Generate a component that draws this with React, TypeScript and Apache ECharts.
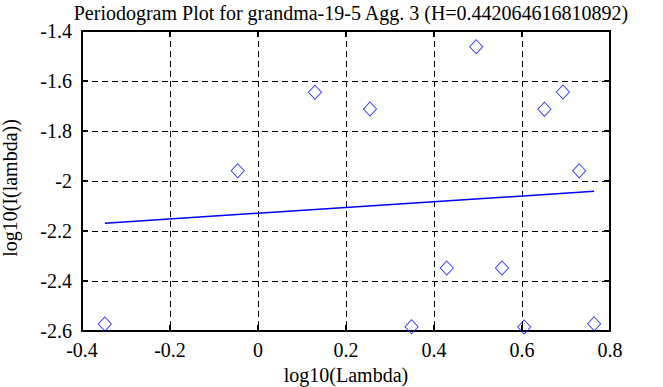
import React, { useEffect, useRef } from "react";
import * as echarts from "echarts";

const titleText = "Periodogram Plot for grandma-19-5 Agg. 3 (H=0.442064616810892)";
const xName = "log10(Lambda)";
const yName = "log10(I(lambda))";

const logLambda = [-0.348, -0.046, 0.1295, 0.2545, 0.349, 0.429, 0.496, 0.5545, 0.605, 0.651, 0.693, 0.730, 0.764];
const logI = [-2.572, -1.959, -1.645, -1.712, -2.583, -2.348, -1.463, -2.348, -2.584, -1.713, -1.644, -1.959, -2.571];
const fitX = [-0.348, 0.764];
const fitY = [-2.169, -2.041];

const FONT = "Liberation Serif, Times New Roman, serif";
const FS = 20;

function fmt(v: number) {
  const r = Math.round(v * 10) / 10;
  return String(r);
}

export default function App() {
  const ref = useRef<HTMLDivElement>(null);
  useEffect(() => {
    document.body.style.margin = "0";
    if (!ref.current) return;
    const chart = echarts.init(ref.current, null, { renderer: "svg" });
    const axisCommon = {
      type: "value" as const,
      axisLine: { show: true, onZero: false, lineStyle: { color: "#000", width: 2 } },
      axisTick: { show: true, inside: true, length: 6, lineStyle: { color: "#000", width: 2 } },
      minorTick: { show: false },
    };
    chart.setOption({
      animation: false,
      backgroundColor: "#fff",
      textStyle: { fontFamily: FONT },
      title: {
        text: titleText,
        left: 346,
        textAlign: "center",
        top: -2,
        textStyle: { fontFamily: FONT, fontSize: FS, fontWeight: "normal", color: "#000" },
      },
      grid: { left: 82, top: 31, width: 528, height: 300, containLabel: false, outerBoundsMode: "none" },
      graphic: [
        {
          type: "text",
          x: 10,
          y: 188,
          rotation: Math.PI / 2,
          style: {
            text: yName,
            fontFamily: FONT,
            fontSize: FS,
            fill: "#000",
            align: "center",
            verticalAlign: "middle",
          },
        },
      ],
      xAxis: [
        {
          ...axisCommon,
          position: "bottom",
          min: -0.4,
          max: 0.8,
          interval: 0.2,
          name: xName,
          nameLocation: "middle",
          nameGap: 32,
          nameTextStyle: { fontFamily: FONT, fontSize: FS, color: "#000" },
          axisLabel: { fontFamily: FONT, fontSize: FS, color: "#000", margin: 9, formatter: fmt },
          splitLine: { show: true, lineStyle: { color: "#000", type: [6, 4], width: 1 } },
        },
        {
          ...axisCommon,
          position: "top",
          min: -0.4,
          max: 0.8,
          interval: 0.2,
          axisLabel: { show: false },
          splitLine: { show: false },
        },
      ],
      yAxis: [
        {
          ...axisCommon,
          position: "left",
          min: -2.6,
          max: -1.4,
          interval: 0.2,
          axisLabel: { fontFamily: FONT, fontSize: FS, color: "#000", margin: 10, formatter: fmt },
          splitLine: { show: true, lineStyle: { color: "#000", type: [6, 4], width: 1 } },
        },
        {
          ...axisCommon,
          position: "right",
          min: -2.6,
          max: -1.4,
          interval: 0.2,
          axisLabel: { show: false },
          splitLine: { show: false },
        },
      ],
      series: [
        {
          type: "scatter",
          xAxisIndex: 0,
          yAxisIndex: 0,
          symbol: "diamond",
          symbolSize: [13, 14],
          itemStyle: { color: "rgba(0,0,0,0)", borderColor: "#0000ff", borderWidth: 1 },
          data: logLambda.map((x, i) => [x, logI[i]]),
          z: 5,
        },
        {
          type: "line",
          xAxisIndex: 0,
          yAxisIndex: 0,
          showSymbol: false,
          symbol: "none",
          lineStyle: { color: "#0000ff", width: 1.5 },
          data: fitX.map((x, i) => [x, fitY[i]]),
          z: 4,
        },
      ],
    });
    return () => chart.dispose();
  }, []);
  return <div ref={ref} style={{ width: 663, height: 387 }} />;
}
